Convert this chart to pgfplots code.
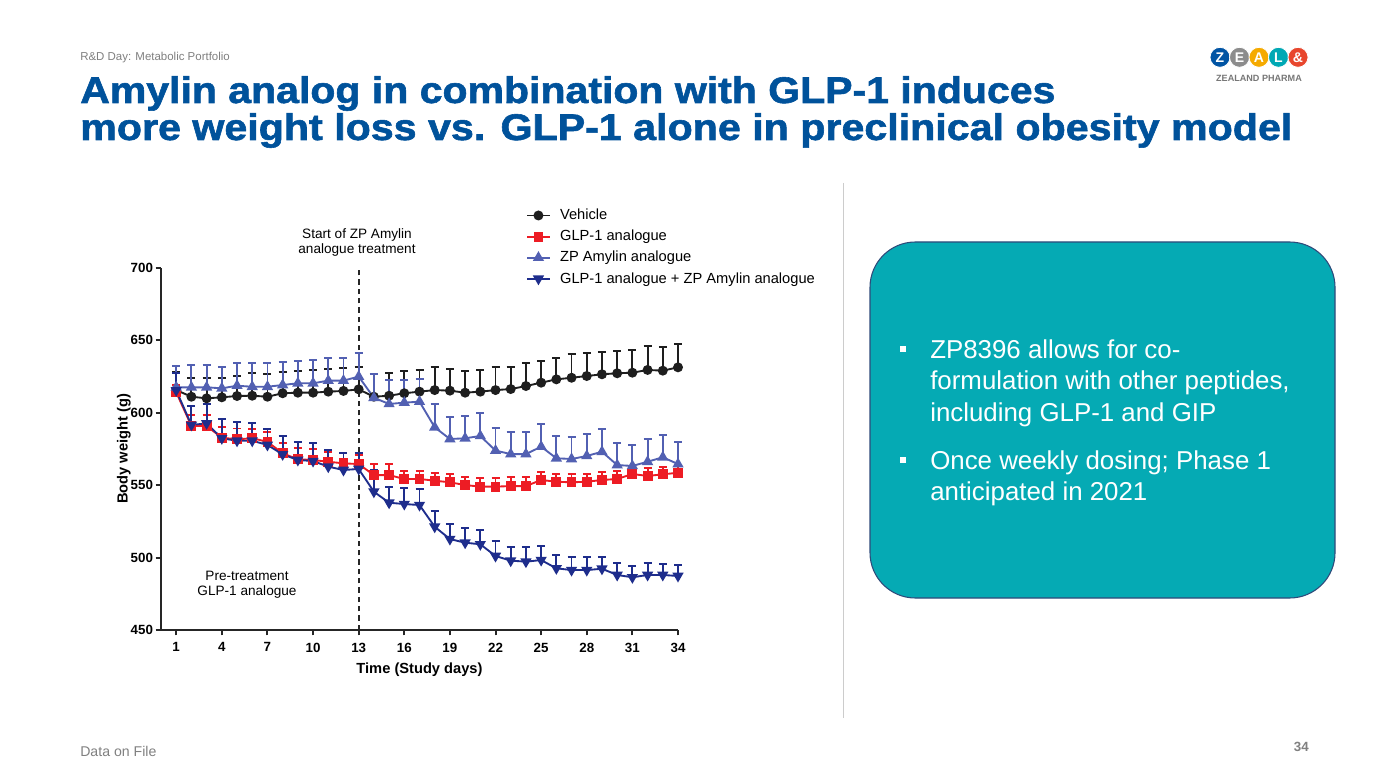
\documentclass[border=0pt]{standalone}
\usepackage{pgfplots}
\pgfplotsset{compat=1.18}
\usepackage{pgfplotstable}
\usepackage{graphicx}
\usepackage{fontspec}
\setmainfont{Liberation Sans}
\newfontfamily\titlefont[BoldFeatures={FakeBold=1.5}]{Liberation Sans}

\definecolor{zblue}{RGB}{0,82,155}
\definecolor{zteal}{RGB}{5,170,180}
\definecolor{boxedge}{RGB}{47,74,122}
\definecolor{cveh}{RGB}{30,30,30}
\definecolor{cglp}{RGB}{237,28,36}
\definecolor{camy}{RGB}{82,96,178}
\definecolor{ccombo}{RGB}{30,45,140}
\definecolor{lgblue}{RGB}{0,84,164}
\definecolor{lggray}{RGB}{140,140,140}
\definecolor{lgyellow}{RGB}{245,170,0}
\definecolor{lgteal}{RGB}{0,168,180}
\definecolor{lgred}{RGB}{232,70,45}

% day, mean body weight (g), upper SEM
\pgfplotstableread{
d w e
1 615.7 12.7
2 611.1 13.1
3 610.0 14.0
4 610.7 13.3
5 611.6 14.0
6 611.8 15.5
7 611.1 15.7
8 613.5 14.5
9 613.9 15.2
10 613.9 15.7
11 614.6 15.6
12 615.1 15.6
13 616.2 15.2
14 611.1 15.7
15 611.8 15.5
16 613.5 15.4
17 614.6 15.0
18 615.7 16.1
19 615.3 14.9
20 613.9 15.0
21 614.6 15.0
22 615.7 15.7
23 616.4 15.0
24 618.5 15.7
25 620.8 15.2
26 623.1 15.0
27 624.2 16.2
28 625.4 15.7
29 626.6 15.6
30 627.3 15.6
31 627.7 15.7
32 629.6 16.5
33 629.1 16.1
34 631.4 16.1
}\vehicle

\pgfplotstableread{
d w e
1 614.2 5.0
2 590.9 7.6
3 590.9 7.6
4 582.8 7.6
5 581.7 7.5
6 582.4 6.2
7 580.0 7.0
8 572.0 7.4
9 567.9 7.6
10 567.4 7.6
11 566.2 6.9
12 565.1 6.9
13 564.6 6.3
14 557.0 7.9
15 557.0 7.4
16 554.3 5.7
17 554.3 5.7
18 553.1 5.1
19 552.0 5.5
20 550.1 5.8
21 549.0 5.7
22 549.0 5.7
23 549.4 6.0
24 549.4 6.0
25 553.6 5.3
26 552.4 5.3
27 552.0 5.5
28 552.4 5.3
29 553.6 5.3
30 554.3 5.3
31 557.7 5.1
32 556.4 5.3
33 557.5 5.3
34 558.6 5.4
}\glp

\pgfplotstableread{
d w e
1 617.6 14.7
2 617.6 15.4
3 617.6 15.4
4 616.9 14.9
5 618.7 15.5
6 618.0 16.2
7 618.0 16.2
8 619.2 15.7
9 620.4 15.4
10 620.4 16.1
11 622.2 15.9
12 622.2 15.9
13 625.0 16.1
14 610.4 16.4
15 606.1 16.6
16 607.0 15.7
17 607.7 15.6
18 590.0 16.1
19 581.9 15.4
20 582.4 15.6
21 584.0 15.7
22 573.9 15.4
23 571.5 15.5
24 571.5 15.5
25 576.6 15.5
26 568.6 15.4
27 568.1 15.0
28 570.2 15.2
29 573.1 15.5
30 563.9 15.0
31 563.3 14.5
32 566.2 15.5
33 569.3 15.4
34 564.6 15.4
}\amy

\pgfplotstableread{
d w e
1 615.5 12.0
2 591.6 13.1
3 592.7 13.4
4 582.4 13.3
5 580.7 13.2
6 580.7 12.0
7 577.8 10.8
8 571.3 12.7
9 567.4 12.6
10 566.7 12.2
11 562.8 11.5
12 560.5 11.5
13 561.2 11.3
14 545.5 15.0
15 537.9 11.1
16 537.0 10.9
17 536.3 10.9
18 521.3 11.1
19 512.8 10.4
20 510.3 9.9
21 509.2 10.1
22 501.1 10.2
23 497.9 9.5
24 497.2 10.0
25 498.3 9.7
26 492.6 9.2
27 491.4 9.2
28 491.4 9.2
29 492.3 8.3
30 488.0 8.0
31 486.4 8.0
32 488.0 8.5
33 488.0 7.6
34 487.3 7.6
}\combo

\begin{document}
\begin{tikzpicture}[x=0.75pt,y=0.75pt]
\fill[white] (0,0) rectangle (1387,-780);
\useasboundingbox (0,0) rectangle (1387,-780);

% header
\node[anchor=base west, inner sep=0, text=gray, font=\fontsize{8.6}{10}\selectfont] at (80,-61) {R\&D Day: Metabolic Portfolio};
\node[anchor=base west, inner sep=0, text=zblue] at (80,-103)
  {\resizebox{731.25pt}{\height}{\titlefont\bfseries\fontsize{27.8}{30}\selectfont Amylin analog in combination with GLP-1 induces}};
\node[anchor=base west, inner sep=0, text=zblue] at (80,-140)
  {\resizebox{909pt}{\height}{\titlefont\bfseries\fontsize{27.8}{30}\selectfont more weight loss vs. GLP-1 alone in preclinical obesity model}};

% logo
\foreach \cx/\col/\ch in {1220/lgblue/Z, 1239.5/lggray/E, 1259/lgyellow/A, 1278.5/lgteal/L, 1298/lgred/\&}{
  \fill[\col, draw=white, line width=0.6pt] (\cx,-57.3) circle (7.5pt);
  \node[text=white, font=\bfseries\fontsize{10.5}{11}\selectfont, inner sep=0] at (\cx,-57.3) {\ch};
}
\node[text=lggray!85!black, font=\bfseries\fontsize{6.8}{8}\selectfont, inner sep=0] at (1259,-78.3) {ZEALAND PHARMA};

% separator
\draw[black!20, line width=0.75pt] (843,-183) -- (843,-718);

% footer
\node[anchor=base west, inner sep=0, text=gray, font=\fontsize{10.6}{12}\selectfont] at (80,-756) {Data on File};
\node[anchor=base east, inner sep=0, text=gray, font=\bfseries\fontsize{10}{12}\selectfont] at (1309,-751) {34};

% text box
\draw[draw=boxedge, line width=0.8pt, fill=zteal, rounded corners=34pt] (870,-242) rectangle (1335,-598);
\fill[white] (900,-346) rectangle (906,-352);
\fill[white] (900,-457) rectangle (906,-463);
\begin{scope}[every node/.style={anchor=base west, inner sep=0, text=white, font=\fontsize{19.4}{23}\selectfont}]
\node at (930,-358) {ZP8396 allows for co-};
\node at (930,-389.5) {formulation with other peptides,};
\node at (930,-421) {including GLP-1 and GIP};
\node at (930,-469) {Once weekly dosing; Phase 1};
\node at (930,-500) {anticipated in 2021};
\end{scope}

% annotations
\node[align=center, font=\fontsize{10.2}{11.25}\selectfont] at (357,-242.5) {Start of ZP Amylin\\analogue treatment};
\node[align=center, font=\fontsize{10.2}{11.25}\selectfont] at (247,-584.5) {Pre-treatment\\GLP-1 analogue};

\begin{axis}[
  at={(120.75pt,-472.5pt)}, anchor=south west,
  width=387.75pt, height=271.5pt, scale only axis,
  xmin=0, xmax=34, ymin=450, ymax=700,
  clip=false,
  axis x line*=bottom, axis y line*=left,
  axis line style={line width=1.5pt, black!85},
  xtick={1,4,...,34}, ytick={450,500,...,700},
  xtick pos=left, ytick pos=left,
  tick align=outside, major tick length=4pt,
  tick style={line width=1.5pt, black!85},
  ticklabel style={font=\bfseries\fontsize{10}{12}\selectfont},
  xticklabel style={yshift=-2pt},
  yticklabel style={xshift=1.5pt},
  /pgf/number format/assume math mode=true,
  xlabel={Time (Study days)}, ylabel={Body weight (g)},
  label style={font=\bfseries\fontsize{11}{13}\selectfont},
  xlabel style={at={(axis description cs:0.5,-0.11)}, anchor=center},
  ylabel style={at={(axis description cs:-0.072,0.5)}, anchor=center},
  legend style={at={(0.698,1.178)}, anchor=north west, draw=none, fill=none,
    font=\fontsize{11}{13}\selectfont, row sep=2.35pt,
    /tikz/every odd column/.append style={column sep=5pt}},
  legend cell align=left,
  legend image post style={line width=1.4pt},
  every axis plot/.append style={line width=1.4pt, mark options={solid}},
]
\draw[black!85, line width=1.5pt, dash pattern=on 4pt off 3pt] (axis cs:13,450) -- (axis cs:13,700);

\addplot[color=cveh, mark=*, mark size=3pt,
  error bars/.cd, y dir=plus, y explicit,
  error bar style={line width=1.4pt, solid},
  error mark options={rotate=90, mark size=3pt, line width=1.4pt}]
  table[x=d, y=w, y error=e] {\vehicle};
\addlegendentry{Vehicle}
\addplot[color=cglp, mark=square*, mark size=3pt,
  error bars/.cd, y dir=plus, y explicit,
  error bar style={line width=1.4pt, solid},
  error mark options={rotate=90, mark size=3pt, line width=1.4pt}]
  table[x=d, y=w, y error=e] {\glp};
\addlegendentry{GLP-1 analogue}
\addplot[color=camy, mark=triangle*, mark size=3.5pt,
  error bars/.cd, y dir=plus, y explicit,
  error bar style={line width=1.4pt, solid},
  error mark options={rotate=90, mark size=3pt, line width=1.4pt}]
  table[x=d, y=w, y error=e] {\amy};
\addlegendentry{ZP Amylin analogue}
\addplot[color=ccombo, mark=triangle*, mark size=3.5pt, mark options={rotate=180},
  error bars/.cd, y dir=plus, y explicit,
  error bar style={line width=1.4pt, solid},
  error mark options={rotate=90, mark size=3pt, line width=1.4pt}]
  table[x=d, y=w, y error=e] {\combo};
\addlegendentry{GLP-1 analogue + ZP Amylin analogue}
\end{axis}
\end{tikzpicture}
\end{document}
